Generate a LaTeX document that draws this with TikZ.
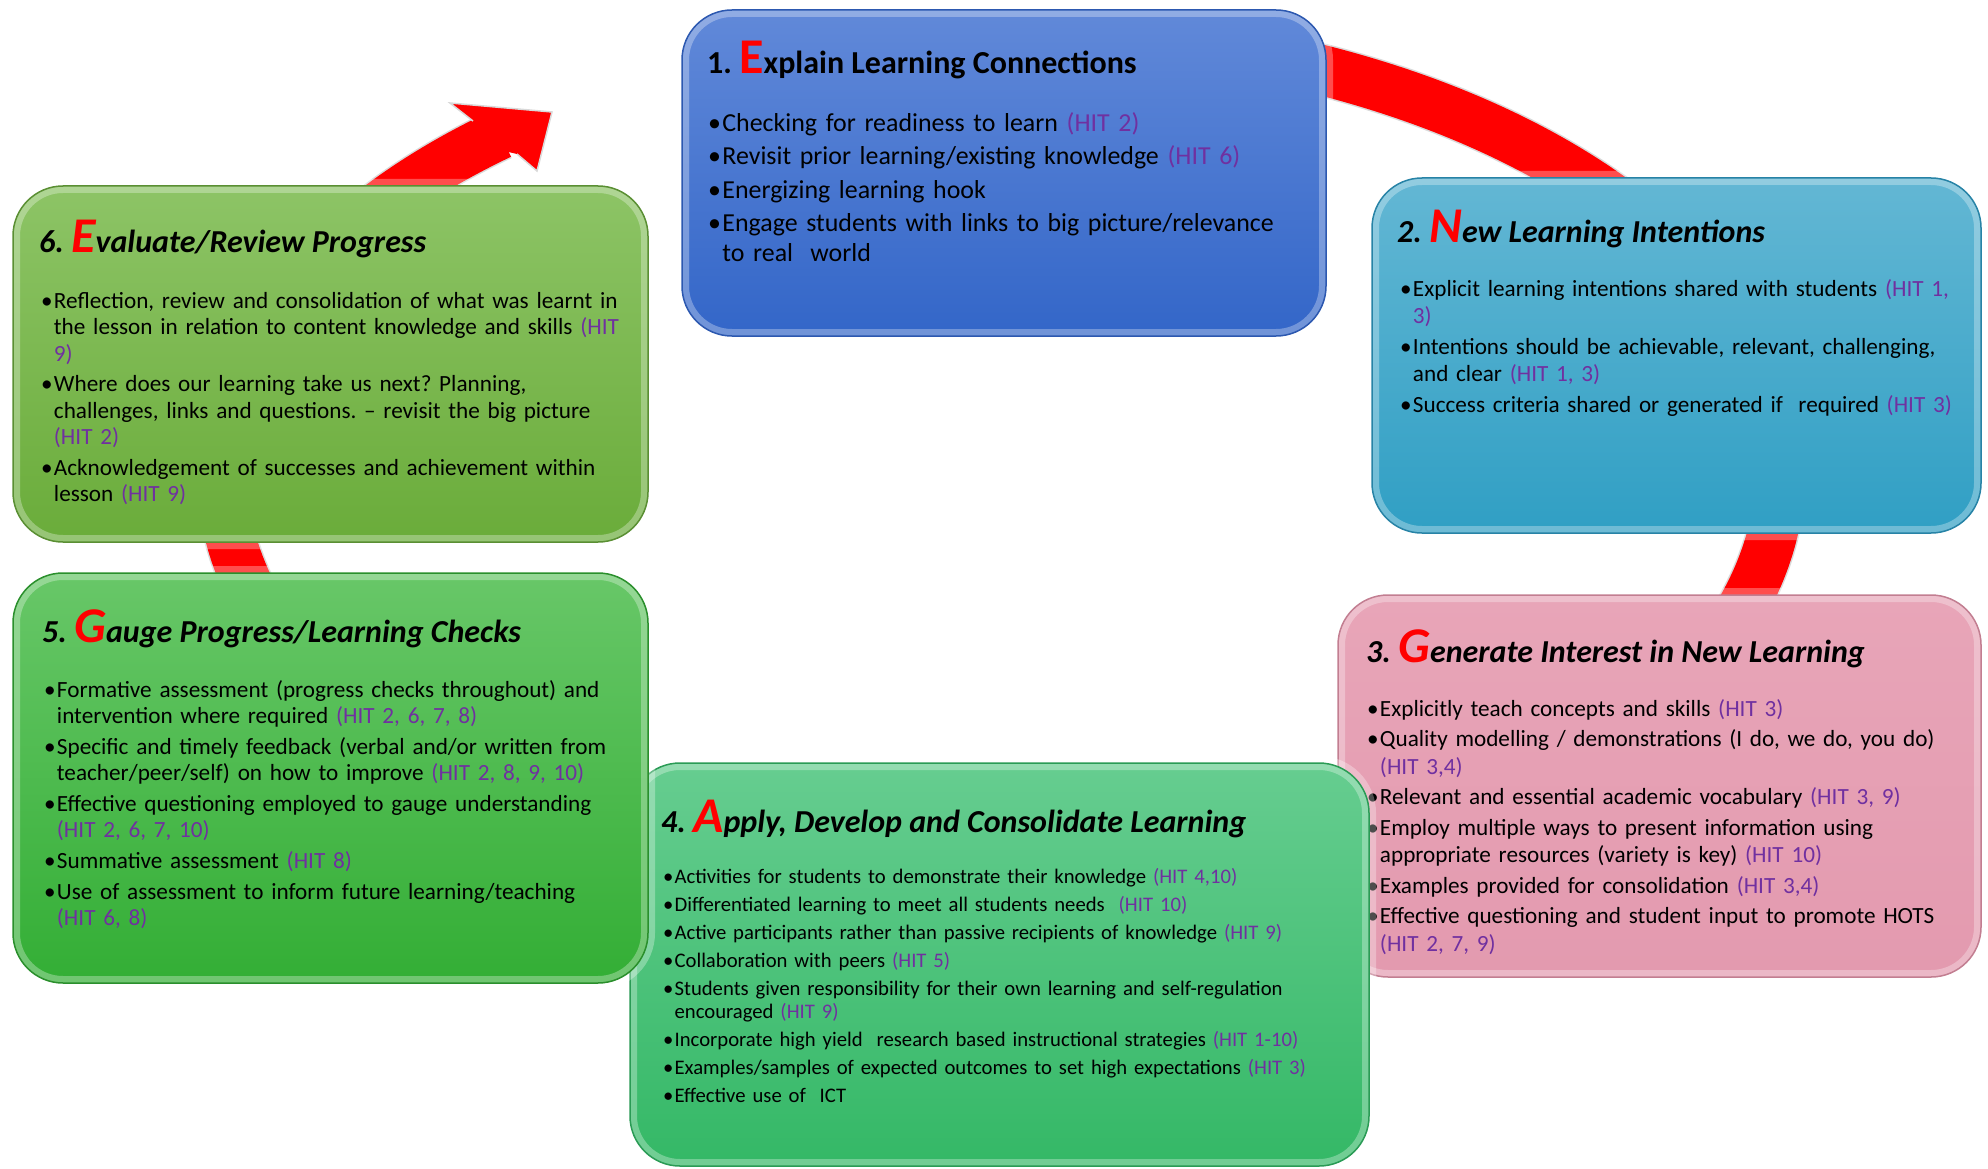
\documentclass[tikz,border=0pt]{standalone}
\usepackage{fontspec}
\setmainfont{Carlito}
\frenchspacing
\definecolor{blueA}{HTML}{6189D9}
\definecolor{blueB}{HTML}{3366C8}
\definecolor{blueE}{HTML}{2C58B0}
\definecolor{cyanA}{HTML}{63B7D4}
\definecolor{cyanB}{HTML}{309FC4}
\definecolor{cyanE}{HTML}{2783A6}
\definecolor{pinkA}{HTML}{E8A5B8}
\definecolor{pinkB}{HTML}{E39AAF}
\definecolor{pinkE}{HTML}{C27E91}
\definecolor{mintA}{HTML}{66CD90}
\definecolor{mintB}{HTML}{34B866}
\definecolor{mintE}{HTML}{2A9B55}
\definecolor{grassA}{HTML}{68C768}
\definecolor{grassB}{HTML}{33AE35}
\definecolor{grassE}{HTML}{2A8F2C}
\definecolor{limeA}{HTML}{8DC466}
\definecolor{limeB}{HTML}{6AAC3A}
\definecolor{limeE}{HTML}{5A8F33}
\definecolor{hit}{HTML}{7030A0}
\newcommand\hit[1]{\textcolor{hit}{(HIT #1)}}
\newcommand\itm{\par\hangindent=.55em\hangafter=1\noindent\makebox[.55em][l]{\textbullet}}
\newcommand\firstletter[1]{{\color{red}\fontsize{50}{50}\selectfont #1}}
\begin{document}
\begin{tikzpicture}[x=1pt,y=-1pt,
  box/.style={rounded corners=50pt, inner sep=0pt,
    postaction={draw=white, opacity=.3, line width=14pt},
    postaction={draw=#1, line width=1.5pt}},
  head/.style={inner sep=0pt, anchor=base west, font=\fontsize{32}{34}\selectfont\bfseries\itshape},
  body/.style={inner sep=0pt, anchor=north west, align=left, text width=#1pt,
    font=\fontsize{23.2}{27}\selectfont},
  ribbon/.style={draw=red, line width=50pt, preaction={draw=black!15, line width=53pt}}]
  \useasboundingbox[fill=white] (0,0) rectangle (1988,1169);
  % the red cycle arrow behind the boxes
  \coordinate (mid) at (1001,472);
  \coordinate (tip) at (552,112);
  \draw[ribbon] (mid) ++(-75:779 and 441) arc[start angle=-75, end angle=230, x radius=779, y radius=441];
  \fill[red] (473,121) -- (450,103) -- (tip) -- (537,171) -- (517,154) -- (500,150) -- cycle;
  \draw[black!15, line width=1.5pt] (473,121) -- (450,103) -- (tip) -- (537,171) -- (517,154);

  % 1
  \node[box=blueE, top color=blueA, bottom color=blueB, minimum width=644pt, minimum height=326pt] (explain) at (1004,173) {};
  \node[head, font=\fontsize{32}{34}\selectfont\bfseries] (explainhd) at (707,74) {1. \firstletter{E}xplain Learning Connections};
  \node[body=600, font=\fontsize{25.9}{30}\selectfont, execute at begin node={\setlength\parskip{3.5pt}}] (explaintxt) at (708,97.5) {%
    \itm Checking for readiness to learn \hit{2}
    \itm Revisit prior learning/existing knowledge \hit{6}
    \itm Energizing learning hook
    \itm Engage students with links to big picture/relevance\newline to real~ world\par};

  % 2
  \node[box=cyanE, top color=cyanA, bottom color=cyanB, minimum width=609pt, minimum height=355pt] (new) at (1676.5,355.5) {};
  \node[head] (newhd) at (1397,242) {2. \firstletter{N}ew Learning Intentions};
  \node[body=575, execute at begin node={\setlength\parskip{4pt}}] (newtxt) at (1400,265.5) {%
    \itm Explicit learning intentions shared with students \textcolor{hit}{(HIT 1,\newline 3)}
    \itm Intentions should be achievable, relevant, challenging,\newline and clear \hit{1, 3}
    \itm Success criteria shared or generated if~ required \hit{3}\par};

  % 3
  \node[box=pinkE, top color=pinkA, bottom color=pinkB, minimum width=643pt, minimum height=382pt] (generate) at (1659.5,786) {};
  \node[head] (generatehd) at (1366,662) {3. \firstletter{G}enerate Interest in New Learning};
  \node[body=600, font=\fontsize{23.2}{27.5}\selectfont, execute at begin node={\setlength\parskip{3pt}}] (generatetxt) at (1367,685.5) {%
    \itm Explicitly teach concepts and skills \hit{3}
    \itm Quality modelling / demonstrations (I do, we do, you do)\newline \hit{3,4}
    \itm Relevant and essential academic vocabulary \hit{3, 9}
    \itm Employ multiple ways to present information using\newline appropriate resources (variety is key) \hit{10}
    \itm Examples provided for consolidation \hit{3,4}
    \itm Effective questioning and student input to promote HOTS\newline \hit{2, 7, 9}\par};

  % 4
  \node[box=mintE, top color=mintA, bottom color=mintB, minimum width=739pt, minimum height=403pt] (apply) at (999.5,964.5) {};
  \node[head] (applyhd) at (661,832) {4. \firstletter{A}pply, Develop and Consolidate Learning};
  \node[body=690, font=\fontsize{20.7}{23}\selectfont, execute at begin node={\setlength\parskip{5pt}}] (applytxt) at (663,855.5) {%
    \itm Activities for students to demonstrate their knowledge \hit{4,10}
    \itm Differentiated learning to meet all students needs~ \hit{10}
    \itm Active participants rather than passive recipients of knowledge \hit{9}
    \itm Collaboration with peers \hit{5}
    \itm Students given responsibility for their own learning and self-regulation\newline encouraged \hit{9}
    \itm Incorporate high yield~ research based instructional strategies \hit{1-10}
    \itm Examples/samples of expected outcomes to set high expectations \hit{3}
    \itm Effective use of~ ICT\par};

  % 5
  \node[box=grassE, top color=grassA, bottom color=grassB, minimum width=635pt, minimum height=410pt] (gauge) at (330.5,778) {};
  \node[head] (gaugehd) at (42,642) {5. \firstletter{G}auge Progress/Learning Checks};
  \node[body=595, font=\fontsize{23.2}{26}\selectfont, execute at begin node={\setlength\parskip{5pt}}] (gaugetxt) at (44,666.5) {%
    \itm Formative assessment (progress checks throughout) and\newline intervention where required \hit{2, 6, 7, 8}
    \itm Specific and timely feedback (verbal and/or written from\newline teacher/peer/self) on how to improve \hit{2, 8, 9, 10}
    \itm Effective questioning employed to gauge understanding\newline \hit{2, 6, 7, 10}
    \itm Summative assessment \hit{8}
    \itm Use of assessment to inform future learning/teaching\newline \hit{6, 8}\par};

  % 6
  \node[box=limeE, top color=limeA, bottom color=limeB, minimum width=635pt, minimum height=356pt] (evaluate) at (330.5,364) {};
  \node[head] (evaluatehd) at (39,252) {6. \firstletter{E}valuate/Review Progress};
  \node[body=600, font=\fontsize{23.2}{26.5}\selectfont, execute at begin node={\setlength\parskip{4pt}}] (evaluatetxt) at (41,277.5) {%
    \itm Reflection, review and consolidation of what was learnt in\newline the lesson in relation to content knowledge and skills \textcolor{hit}{(HIT\newline 9)}
    \itm Where does our learning take us next? Planning,\newline challenges, links and questions. -- revisit the big picture\newline \hit{2}
    \itm Acknowledgement of successes and achievement within\newline lesson \hit{9}\par};
\end{tikzpicture}
\end{document}
